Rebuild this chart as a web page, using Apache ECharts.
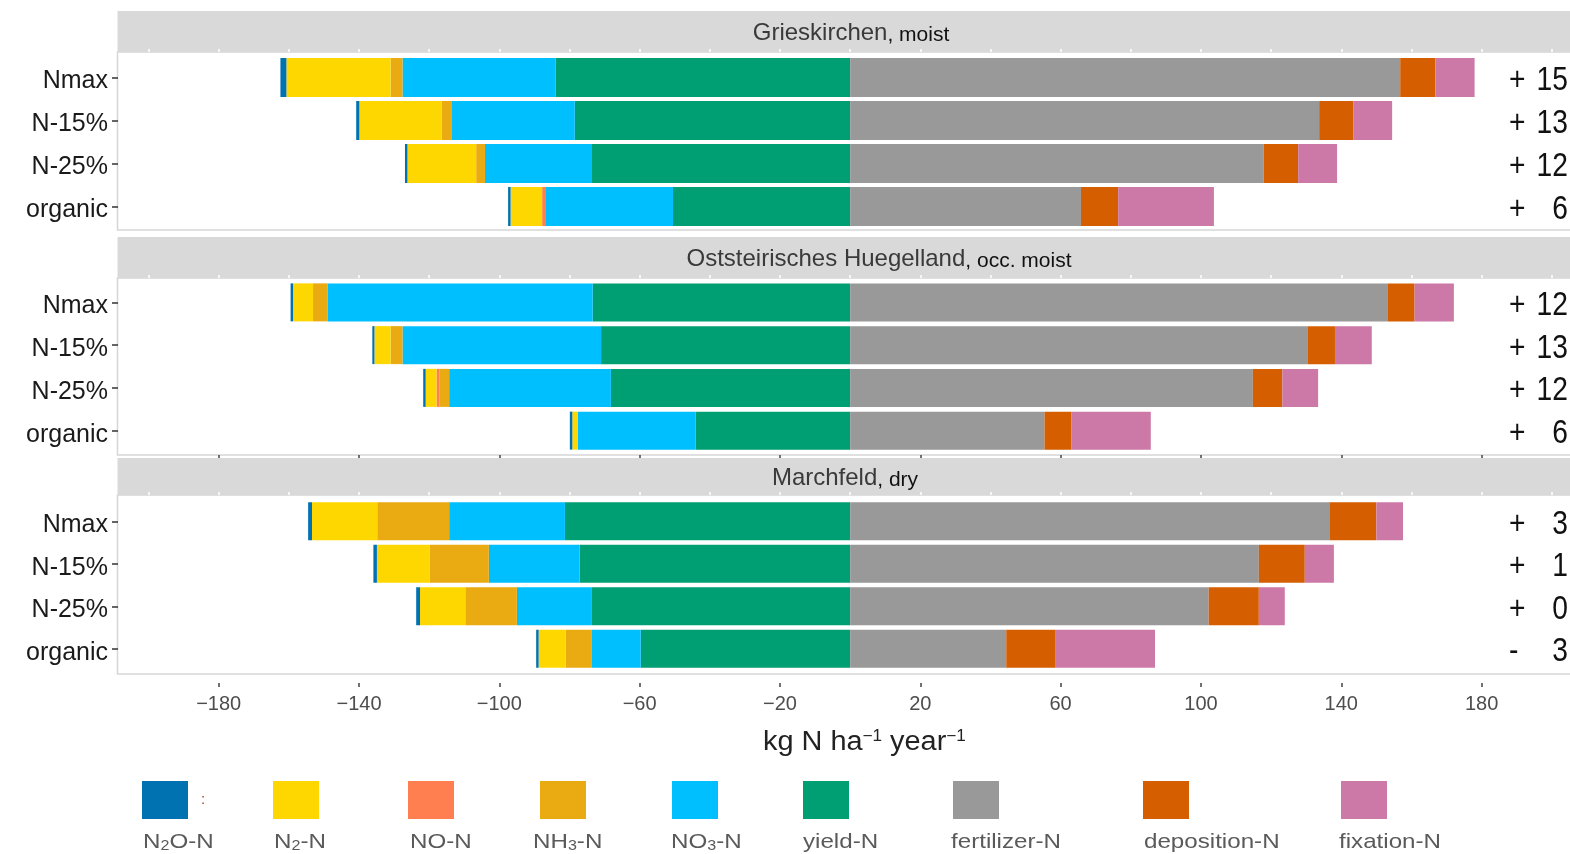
<!DOCTYPE html>
<html>
<head>
<meta charset="utf-8">
<script src="https://cdn.jsdelivr.net/npm/echarts@6/dist/echarts.min.js"></script>
<style>
  html, body { margin: 0; padding: 0; background: #fff; }
  #main { width: 1570px; height: 854px; }
</style>
</head>
<body>
<div id="main"></div>
<script>
// ---- data: N balance per site and fertilisation level (kg N ha-1 year-1) ----
const sites = ['Grieskirchen', 'Oststeirisches Huegelland', 'Marchfeld'];
const climates = ['moist', 'occ. moist', 'dry'];
const treatments = ['Nmax', 'N-15%', 'N-25%', 'organic'];

// outputs / losses (drawn to the left of zero), one row per site
const n2oN = [[1.7, 0.9, 0.7, 0.7], [0.7, 0.6, 0.7, 0.7], [1.1, 1.0, 1.1, 0.7]];
const n2N = [[29.7, 23.5, 19.6, 9.0], [5.7, 4.6, 3.1, 1.6], [18.6, 15.1, 12.9, 7.7]];
const noN = [[0, 0, 0, 1.1], [0, 0, 0.8, 0], [0, 0, 0, 0]];
const nh3N = [[3.4, 2.9, 2.5, 0], [4.1, 3.4, 2.8, 0], [20.5, 16.8, 14.7, 7.5]];
const no3N = [[43.7, 35.0, 30.3, 36.2], [75.6, 56.6, 46.1, 33.6], [33.0, 25.9, 21.4, 13.9]];
const yieldN = [[83.9, 78.5, 73.8, 50.5], [73.4, 71.0, 68.2, 44.0], [81.3, 77.1, 73.6, 59.7]];

// inputs (drawn to the right of zero)
const fertilizerN = [[156.8, 133.7, 117.9, 65.8], [153.3, 130.5, 114.8, 55.4], [136.6, 116.5, 102.2, 44.5]];
const depositionN = [[10.0, 9.8, 9.8, 10.6], [7.6, 7.7, 8.4, 7.6], [13.4, 13.1, 14.3, 14.1]];
const fixationN = [[11.2, 11.0, 11.1, 27.3], [11.2, 10.5, 10.2, 22.7], [7.6, 8.3, 7.4, 28.3]];

// resulting surplus printed at the right of each row
const balances = [[15, 13, 12, 6], [12, 13, 12, 6], [3, 1, 0, -3]];

// x axis tick labels
const tickValues = [-180, -140, -100, -60, -20, 20, 60, 100, 140, 180];
const axisTitle = ['kg N ha', '−1', ' year', '−1'];

// ---- components: drawing order (from zero outwards) and colours ----
const FONT = 'Liberation Sans, Arial, Helvetica, sans-serif';
const components = [
  { key: 'yield', label: '{n|yield-N}', data: yieldN, sign: -1, color: '#009E73' },
  { key: 'NO3', label: '{n|NO}{s|3}{n|-N}', data: no3N, sign: -1, color: '#00BFFF' },
  { key: 'NH3', label: '{n|NH}{s|3}{n|-N}', data: nh3N, sign: -1, color: '#EAAA12' },
  { key: 'NO', label: '{n|NO-N}', data: noN, sign: -1, color: '#FF7F50' },
  { key: 'N2', label: '{n|N}{s|2}{n|-N}', data: n2N, sign: -1, color: '#FFD700' },
  { key: 'N2O', label: '{n|N}{s|2}{n|O-N}', data: n2oN, sign: -1, color: '#0072B2' },
  { key: 'fertilizer', label: '{n|fertilizer-N}', data: fertilizerN, sign: 1, color: '#999999' },
  { key: 'deposition', label: '{n|deposition-N}', data: depositionN, sign: 1, color: '#D55E00' },
  { key: 'fixation', label: '{n|fixation-N}', data: fixationN, sign: 1, color: '#CC79A7' }
];
const legendOrder = ['N2O', 'N2', 'NO', 'NH3', 'NO3', 'yield', 'fertilizer', 'deposition', 'fixation'];

// ---- layout ----
const X_MIN = -208.7, X_MAX = 205.2;
const PLOT_LEFT = 118;
const panels = [
  { stripTop: 11, top: 52, bottom: 230, plotTop: 56, plotH: 172, barW: 39, titleX: 851 },
  { stripTop: 237, top: 278, bottom: 455, plotTop: 281, plotH: 171, barW: 38, titleX: 879 },
  { stripTop: 458, top: 495, bottom: 674, plotTop: 500, plotH: 170, barW: 38, titleX: 845 }
];
const legendLayout = {
  boxX: [142, 273, 408, 540, 672, 803, 953, 1143, 1341],
  labelX: [143, 274, 410, 533, 671, 803, 951, 1144, 1339],
  boxTop: 781, boxW: 46, boxH: 38, labelTop: 829
};

const grids = [], xAxes = [], yAxes = [], series = [], graphics = [];

panels.forEach((p, pi) => {
  grids.push({ left: PLOT_LEFT, right: 0, top: p.plotTop, height: p.plotH, containLabel: false });

  // main value axis of the panel
  const isLast = pi === panels.length - 1;
  xAxes.push({
    type: 'value', gridIndex: pi, min: X_MIN, max: X_MAX, position: 'bottom',
    offset: isLast ? 13 : (pi === 1 ? 3 : 0),
    axisLine: { show: false },
    splitLine: { show: false },
    axisTick: {
      show: pi > 0, length: isLast ? 4 : 3, customValues: tickValues,
      lineStyle: { color: '#444', width: 1.5 }
    },
    axisLabel: {
      show: isLast, customValues: tickValues, margin: 11,
      fontSize: 20, color: '#4d4d4d', fontFamily: FONT,
      formatter: v => (v < 0 ? '−' : '') + Math.abs(v)
    }
  });
  // faint stubs where the strip meets the panel
  xAxes.push({
    type: 'value', gridIndex: pi, min: X_MIN, max: X_MAX, position: 'top',
    offset: p.plotTop - p.top, z: 10,
    axisLine: { show: false }, splitLine: { show: false }, axisLabel: { show: false },
    axisTick: {
      show: true, inside: false, length: 3,
      customValues: [-200, -180, -160, -140, -120, -100, -80, -60, -40, -20, 0, 20, 40, 60, 80, 100, 120, 140, 160, 180, 200],
      lineStyle: { color: '#ffffff', width: 1.5 }
    }
  });

  yAxes.push({
    type: 'category', gridIndex: pi, data: treatments, inverse: true, z: 10, position: 'left',
    axisLine: { show: false, onZero: false },
    axisTick: { show: true, alignWithLabel: true, length: 6, lineStyle: { color: '#333', width: 1.5 } },
    axisLabel: {
      fontFamily: FONT, margin: 10,
      formatter: v => '{l|' + v + '}',
      rich: { l: { fontSize: 25, color: '#1a1a1a', fontFamily: FONT, padding: [8, 0, 0, 0] } }
    }
  });

  components.forEach(c => {
    series.push({
      type: 'bar', name: c.key, xAxisIndex: pi * 2, yAxisIndex: pi,
      stack: 'site' + pi, barWidth: p.barW,
      data: c.data[pi].map(v => c.sign * v),
      itemStyle: { color: c.color },
      emphasis: { disabled: true },
      animation: false
    });
  });

  // surplus text at the right end of each row
  series.push({
    type: 'custom', xAxisIndex: pi * 2, yAxisIndex: pi, clip: false, animation: false,
    data: treatments.map((t, i) => [X_MAX, i, balances[pi][i]]),
    renderItem: (params, api) => {
      const pt = api.coord([api.value(0), api.value(1)]);
      const v = api.value(2);
      const style = { fontSize: 34, fontFamily: FONT, fill: '#111', verticalAlign: 'middle' };
      return {
        type: 'group',
        children: [
          { type: 'text', x: pt[0] - 61, y: pt[1] + 3, scaleX: 0.83,
            style: Object.assign({ text: v < 0 ? '-' : '+', align: 'left' }, style) },
          { type: 'text', x: pt[0] - 2, y: pt[1] + 3, scaleX: 0.83,
            style: Object.assign({ text: String(Math.abs(v)), align: 'right' }, style) }
        ]
      };
    }
  });

  // panel background + border and the grey strip with the site name
  graphics.push({
    type: 'rect', z: -10, silent: true,
    shape: { x: PLOT_LEFT - 0.5, y: p.top, width: 1570, height: p.bottom - p.top },
    style: { fill: '#ffffff', stroke: '#d6d6d6', lineWidth: 1.5 }
  });
  graphics.push({
    type: 'rect', z: -9, silent: true,
    shape: { x: PLOT_LEFT - 0.5, y: p.stripTop, width: 1570, height: p.top - p.stripTop },
    style: { fill: '#d9d9d9' }
  });
  graphics.push({
    type: 'text', z: 5, silent: true,
    x: p.titleX, y: (p.stripTop + p.top) / 2 + 1,
    style: {
      text: '{a|' + sites[pi] + '}{b|, ' + climates[pi] + '}',
      align: 'center', verticalAlign: 'middle',
      rich: {
        a: { fontSize: 24, fontFamily: FONT, fill: '#3a3a3a', verticalAlign: 'bottom', lineHeight: 26 },
        b: { fontSize: 21, fontFamily: FONT, fill: '#111', verticalAlign: 'bottom', lineHeight: 26 }
      }
    }
  });
});

// axis title with superscripts
graphics.push({
  type: 'text', silent: true, x: 763, y: 729, scaleX: 1.07,
  style: {
    text: '{t|' + axisTitle[0] + '}{u|' + axisTitle[1] + '}{t|' + axisTitle[2] + '}{u|' + axisTitle[3] + '}',
    rich: {
      t: { fontSize: 27, fontFamily: FONT, fill: '#222', lineHeight: 32, verticalAlign: 'top' },
      u: { fontSize: 16, fontFamily: FONT, fill: '#222', lineHeight: 18, verticalAlign: 'top' }
    }
  }
});

// legend: coloured boxes with the names underneath
legendOrder.forEach((key, i) => {
  const c = components.find(d => d.key === key);
  graphics.push({
    type: 'rect', silent: true,
    shape: { x: legendLayout.boxX[i], y: legendLayout.boxTop, width: legendLayout.boxW, height: legendLayout.boxH },
    style: { fill: c.color }
  });
  graphics.push({
    type: 'text', silent: true, x: legendLayout.labelX[i], y: legendLayout.labelTop, scaleX: 1.15,
    style: {
      text: c.label,
      rich: {
        n: { fontSize: 21, fontFamily: FONT, fill: '#5a5a5a', lineHeight: 24, verticalAlign: 'bottom' },
        s: { fontSize: 14, fontFamily: FONT, fill: '#5a5a5a', lineHeight: 10, verticalAlign: 'bottom' }
      }
    }
  });
});
graphics.push({
  type: 'text', silent: true, x: 203, y: 800,
  style: { text: ':', fontSize: 15, fontFamily: FONT, fill: '#a0402a', align: 'center', verticalAlign: 'middle' }
});

const chart = echarts.init(document.getElementById('main'), null, { renderer: 'canvas' });
chart.setOption({
  animation: false,
  backgroundColor: '#ffffff',
  grid: grids,
  xAxis: xAxes,
  yAxis: yAxes,
  series: series,
  graphic: { elements: graphics }
});
</script>
</body>
</html>
